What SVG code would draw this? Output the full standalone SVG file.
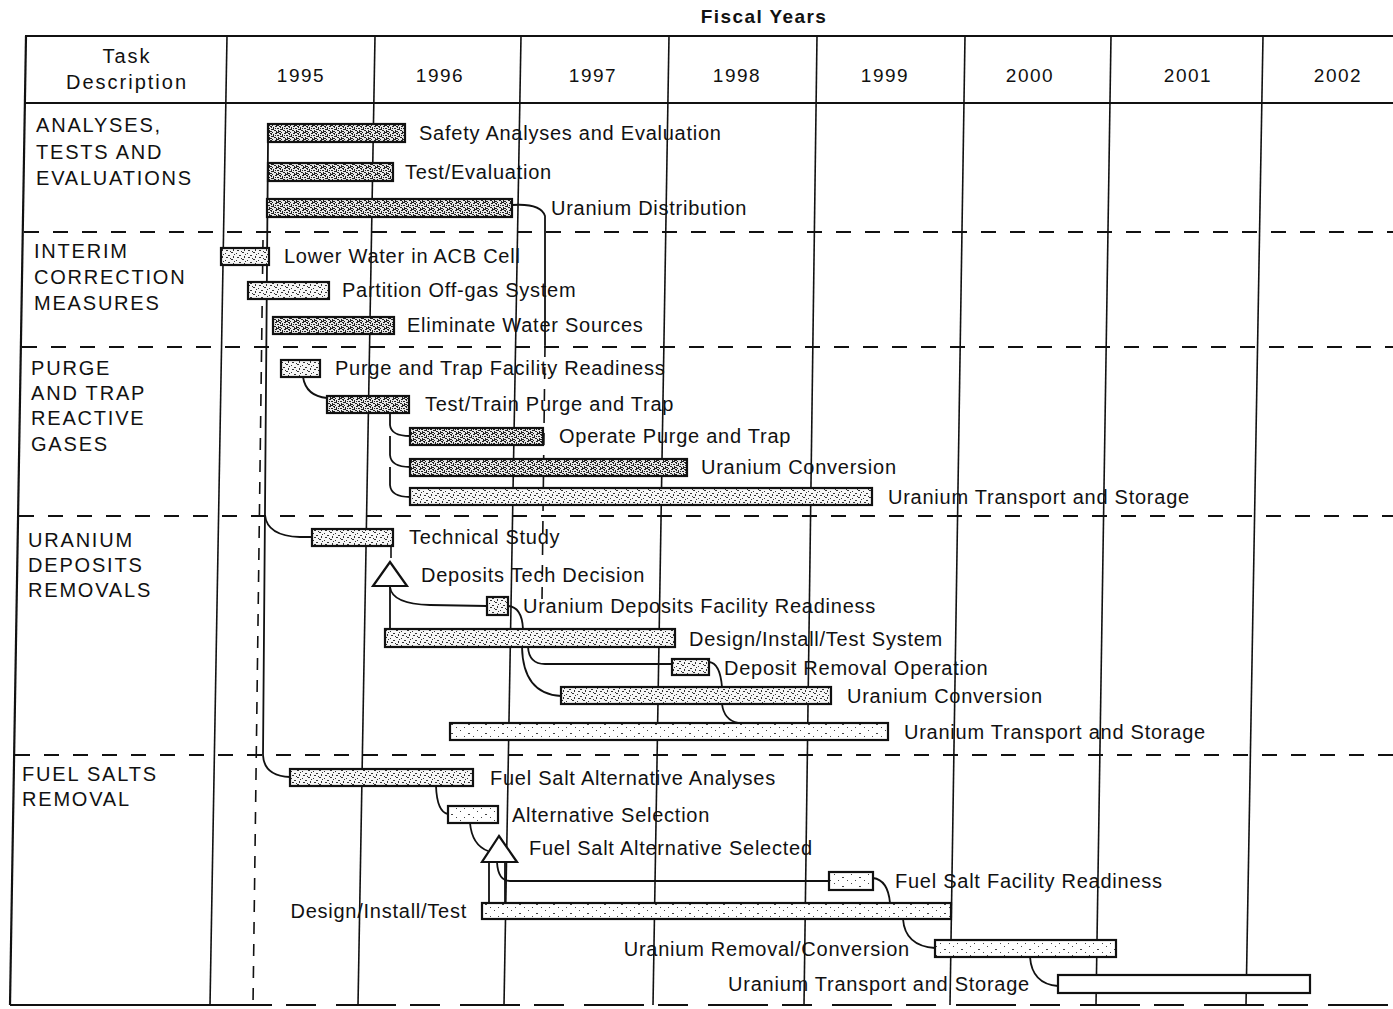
<svg xmlns="http://www.w3.org/2000/svg" width="1393" height="1009" viewBox="0 0 1393 1009">
<style>
  text { font-family: "Liberation Sans", Arial, sans-serif; fill: #111; }
  .lbl { font-size: 20px; letter-spacing: 0.75px; }
  .sec { font-size: 20px; letter-spacing: 1.8px; }
  .hdr { font-size: 20px; letter-spacing: 2px; }
  .yr { font-size: 19px; letter-spacing: 1.5px; }
  .grid { stroke: #111; stroke-width: 1.6; fill: none; }
  .frame { stroke: #111; stroke-width: 2.2; fill: none; }
  .sep { stroke: #111; stroke-width: 2; stroke-dasharray: 15 14; fill: none; }
  .vdash { stroke: #111; stroke-width: 1.6; stroke-dasharray: 12 10; fill: none; }
  .con { stroke: #111; stroke-width: 1.8; fill: none; }
  .bar { stroke: #111; stroke-width: 2.2; }
  .d { fill: url(#pd); }
  .m { fill: url(#pm); }
  .l { fill: url(#pl); }
  .w { fill: #fff; }
  .ms { fill: #fff; stroke: #111; stroke-width: 2.2; }
</style>
<defs>
  <pattern id="pd" width="9" height="7" patternUnits="userSpaceOnUse">
    <rect width="9" height="7" fill="#e8e8e8"/>
    <g fill="#222">
      <rect x="0" y="0" width="2" height="1"/><rect x="3" y="1" width="1" height="2"/>
      <rect x="5" y="0" width="2" height="1"/><rect x="7" y="2" width="2" height="1"/>
      <rect x="1" y="3" width="2" height="1"/><rect x="4" y="4" width="2" height="1"/>
      <rect x="6" y="5" width="1" height="2"/><rect x="0" y="5" width="2" height="1"/>
      <rect x="2" y="6" width="1" height="1"/><rect x="8" y="4" width="1" height="2"/>
      <rect x="3" y="3" width="1" height="1"/><rect x="5" y="2" width="1" height="1"/>
      <rect x="1" y="1" width="1" height="1"/><rect x="7" y="6" width="2" height="1"/>
    </g>
  </pattern>
  <pattern id="pm" width="11" height="7" patternUnits="userSpaceOnUse">
    <rect width="11" height="7" fill="#f6f6f6"/>
    <g fill="#333">
      <rect x="0" y="0" width="2" height="1"/><rect x="5" y="1" width="1" height="1"/>
      <rect x="8" y="3" width="2" height="1"/><rect x="2" y="4" width="1" height="2"/>
      <rect x="6" y="5" width="2" height="1"/><rect x="10" y="6" width="1" height="1"/>
      <rect x="3" y="2" width="1" height="1"/>
    </g>
  </pattern>
  <pattern id="pl" width="17" height="9" patternUnits="userSpaceOnUse">
    <rect width="17" height="9" fill="#fff"/>
    <g fill="#444">
      <rect x="1" y="1" width="1" height="1"/><rect x="9" y="4" width="2" height="1"/>
      <rect x="14" y="7" width="1" height="1"/><rect x="5" y="7" width="1" height="1"/>
    </g>
  </pattern>
</defs>
<rect width="1393" height="1009" fill="#fff"/>

<g id="frame">
  <text x="764" y="23" text-anchor="middle" style="font-size:19px;font-weight:bold;letter-spacing:1.4px">Fiscal Years</text>
  <line class="frame" x1="25" y1="36" x2="1393" y2="36"/>
  <line class="frame" x1="25" y1="103" x2="1393" y2="103"/>
  <line class="frame" x1="26" y1="36" x2="10" y2="1005"/>
  <line class="frame" x1="10" y1="1005" x2="212" y2="1005"/>
  <line class="frame" x1="212" y1="1005" x2="1393" y2="1005" stroke-dasharray="60 14 30 20"/>
  <line class="grid" x1="227" y1="36" x2="210" y2="1005"/>
  <line class="grid" x1="375" y1="36" x2="358" y2="1005"/>
  <line class="grid" x1="521" y1="36" x2="504" y2="1005"/>
  <line class="grid" x1="669" y1="36" x2="653" y2="1005"/>
  <line class="grid" x1="817" y1="36" x2="804" y2="1005"/>
  <line class="grid" x1="965" y1="36" x2="950" y2="1005"/>
  <line class="grid" x1="1111" y1="36" x2="1096" y2="1005"/>
  <line class="grid" x1="1263" y1="36" x2="1246" y2="1005"/>
  <text class="hdr" x="127" y="63" text-anchor="middle">Task</text>
  <text class="hdr" x="127" y="89" text-anchor="middle">Description</text>
  <text class="yr" x="301" y="82" text-anchor="middle">1995</text>
  <text class="yr" x="440" y="82" text-anchor="middle">1996</text>
  <text class="yr" x="593" y="82" text-anchor="middle">1997</text>
  <text class="yr" x="737" y="82" text-anchor="middle">1998</text>
  <text class="yr" x="885" y="82" text-anchor="middle">1999</text>
  <text class="yr" x="1030" y="82" text-anchor="middle">2000</text>
  <text class="yr" x="1188" y="82" text-anchor="middle">2001</text>
  <text class="yr" x="1338" y="82" text-anchor="middle">2002</text>
  <line class="sep" x1="24" y1="232" x2="1393" y2="232"/>
  <line class="sep" x1="22" y1="347" x2="1393" y2="347"/>
  <line class="sep" x1="19" y1="516" x2="1393" y2="516"/>
  <line class="sep" x1="15" y1="755" x2="1393" y2="755"/>
  <line class="vdash" x1="263" y1="240" x2="253" y2="1005"/>
</g>

<g id="sections">
  <text class="sec" x="36" y="132">ANALYSES,</text>
  <text class="sec" x="36" y="159">TESTS AND</text>
  <text class="sec" x="36" y="185">EVALUATIONS</text>
  <text class="sec" x="34" y="258">INTERIM</text>
  <text class="sec" x="34" y="284">CORRECTION</text>
  <text class="sec" x="34" y="310">MEASURES</text>
  <text class="sec" x="31" y="375">PURGE</text>
  <text class="sec" x="31" y="400">AND TRAP</text>
  <text class="sec" x="31" y="425">REACTIVE</text>
  <text class="sec" x="31" y="451">GASES</text>
  <text class="sec" x="28" y="547">URANIUM</text>
  <text class="sec" x="28" y="572">DEPOSITS</text>
  <text class="sec" x="28" y="597">REMOVALS</text>
  <text class="sec" x="22" y="781">FUEL SALTS</text>
  <text class="sec" x="22" y="806">REMOVAL</text>
</g>

<g id="connectors">
  <path class="con" d="M268,142 L263,755 Q264,776 290,777"/>
  <path class="con" d="M265,515 Q267,536 300,537 L312,537"/>
  <path class="con" d="M512,205 Q541,203 545,216 L545,345"/>
  <path class="vdash" d="M545,345 L542,600"/>
  <path class="con" d="M303,377 Q306,396 327,398"/>
  <path class="con" d="M390,413 L390,425 Q391,436 410,436"/>
  <path class="con" d="M390,436 L390,455 Q391,467 410,467"/>
  <path class="con" d="M390,467 L390,485 Q391,497 410,497"/>
  <path class="vdash" d="M391,546 L391,562" stroke-dasharray="4 3"/>
  <path class="con" d="M390,587 Q392,604 430,605 L487,606"/>
  <path class="con" d="M390,587 L390,629"/>
  <path class="con" d="M508,606 Q522,607 523,629"/>
  <path class="con" d="M528,647 Q529,664 545,664 L672,664"/>
  <path class="con" d="M522,647 Q523,694 561,696"/>
  <path class="con" d="M709,662 Q720,663 722,687"/>
  <path class="con" d="M722,704 Q724,720 738,723"/>
  <path class="con" d="M436,786 Q437,812 448,814"/>
  <path class="con" d="M470,823 Q472,845 488,851"/>
  <path class="con" d="M489,862 L489,903"/>
  <path class="con" d="M505,862 L505,903"/>
  <path class="con" d="M497,862 Q498,881 510,881 L829,881"/>
  <path class="con" d="M873,878 Q888,880 890,903"/>
  <path class="con" d="M903,919 Q905,946 935,948"/>
  <path class="con" d="M1030,957 Q1032,984 1058,986"/>
</g>

<g id="n1"><rect class="bar d" x="268" y="124" width="137" height="18"/><text class="lbl" x="419" y="140">Safety Analyses and Evaluation</text></g>
<g id="n2"><rect class="bar d" x="268" y="163" width="125" height="18"/><text class="lbl" x="405" y="179">Test/Evaluation</text></g>
<g id="n3"><rect class="bar d" x="267" y="199" width="245" height="18"/><text class="lbl" x="551" y="215">Uranium Distribution</text></g>
<g id="n4"><rect class="bar m" x="221" y="248" width="48" height="17"/><text class="lbl" x="284" y="263">Lower Water in ACB Cell</text></g>
<g id="n5"><rect class="bar m" x="248" y="282" width="81" height="17"/><text class="lbl" x="342" y="297">Partition Off-gas System</text></g>
<g id="n6"><rect class="bar d" x="273" y="317" width="121" height="17"/><text class="lbl" x="407" y="332">Eliminate Water Sources</text></g>
<g id="n7"><rect class="bar m" x="281" y="360" width="39" height="17"/><text class="lbl" x="335" y="375">Purge and Trap Facility Readiness</text></g>
<g id="n8"><rect class="bar d" x="327" y="396" width="82" height="17"/><text class="lbl" x="425" y="411">Test/Train Purge and Trap</text></g>
<g id="n9"><rect class="bar d" x="410" y="428" width="133" height="17"/><text class="lbl" x="559" y="443">Operate Purge and Trap</text></g>
<g id="n10"><rect class="bar d" x="410" y="459" width="277" height="17"/><text class="lbl" x="701" y="474">Uranium Conversion</text></g>
<g id="n11"><rect class="bar m" x="410" y="488" width="462" height="17"/><text class="lbl" x="888" y="504">Uranium Transport and Storage</text></g>
<g id="n12"><rect class="bar m" x="312" y="529" width="81" height="17"/><text class="lbl" x="409" y="544">Technical Study</text></g>
<g id="n13"><polygon class="ms" points="390,562 407,586 373,586"/><text class="lbl" x="421" y="582">Deposits Tech Decision</text></g>
<g id="n14"><rect class="bar m" x="487" y="597" width="21" height="18"/><text class="lbl" x="523" y="613">Uranium Deposits Facility Readiness</text></g>
<g id="n15"><rect class="bar m" x="385" y="629" width="290" height="18"/><text class="lbl" x="689" y="646">Design/Install/Test System</text></g>
<g id="n16"><rect class="bar m" x="672" y="659" width="37" height="16"/><text class="lbl" x="724" y="675">Deposit Removal Operation</text></g>
<g id="n17"><rect class="bar m" x="561" y="687" width="270" height="17"/><text class="lbl" x="847" y="703">Uranium Conversion</text></g>
<g id="n18"><rect class="bar l" x="450" y="723" width="438" height="17"/><text class="lbl" x="904" y="739">Uranium Transport and Storage</text></g>
<g id="n19"><rect class="bar m" x="290" y="769" width="183" height="17"/><text class="lbl" x="490" y="785">Fuel Salt Alternative Analyses</text></g>
<g id="n20"><rect class="bar l" x="448" y="806" width="50" height="17"/><text class="lbl" x="512" y="822">Alternative Selection</text></g>
<g id="n21"><polygon class="ms" points="499,836 517,862 482,862"/><text class="lbl" x="529" y="855">Fuel Salt Alternative Selected</text></g>
<g id="n22"><rect class="bar l" x="829" y="872" width="44" height="18"/><text class="lbl" x="895" y="888">Fuel Salt Facility Readiness</text></g>
<g id="n23"><rect class="bar l" x="482" y="903" width="469" height="16"/><text class="lbl" x="467" y="918" text-anchor="end">Design/Install/Test</text></g>
<g id="n24"><rect class="bar l" x="935" y="940" width="181" height="17"/><text class="lbl" x="910" y="956" text-anchor="end">Uranium Removal/Conversion</text></g>
<g id="n25"><rect class="bar w" x="1058" y="975" width="252" height="18"/><text class="lbl" x="1030" y="991" text-anchor="end">Uranium Transport and Storage</text></g>
</svg>
